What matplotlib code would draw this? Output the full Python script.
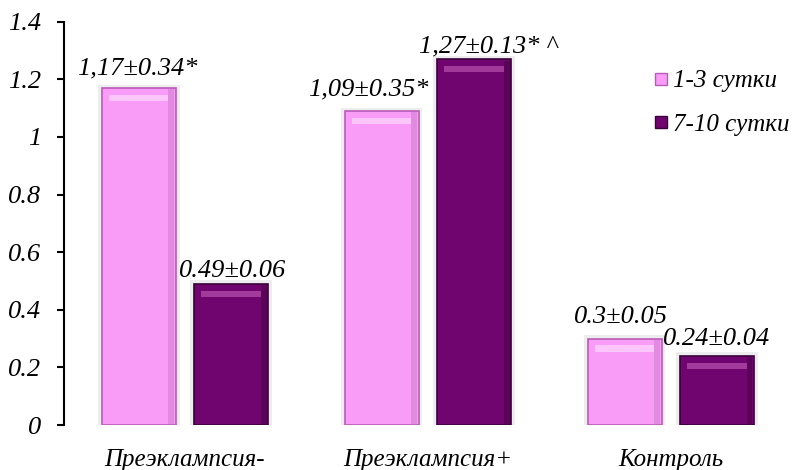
import matplotlib.pyplot as plt
import numpy as np
from matplotlib.lines import Line2D

plt.rcParams['font.family'] = ['Liberation Serif', 'DejaVu Serif']
plt.rcParams['font.style'] = 'italic'

groups = ['Преэклампсия-', 'Преэклампсия+', 'Контроль']
series_names = ['1-3 сутки', '7-10 сутки']
early = [1.17, 1.09, 0.30]
late = [0.49, 1.27, 0.24]
early_labels = ['1,17±0.34*', '1,09±0.35*', '0.3±0.05']
late_labels = ['0.49±0.06', '1,27±0.13* ^', '0.24±0.04']

# label nudges in pixels (dx, dy above bar top)
early_nudge = [(-2, 14), (-13, 16), (-4, 16)]
late_nudge = [(1, 7), (14, 7), (0, 11)]

pink = '#f99cf8'
pink_edge = '#b95cb8'
pink_light = '#fcc6fb'
pink_dark = '#e08ae0'
plum = '#71056f'
plum_edge = '#3a0039'
plum_light = '#a23a9c'
plum_dark = '#5a0358'

fig = plt.figure(figsize=(7.99, 4.70), dpi=100)
ax = fig.add_axes([0.0795, 0.0957, 0.912, 0.858])

x = np.arange(len(groups))
w = 0.305
off = 0.19


def bevel_bars(xs, vals, face, edge, light, dark):
    vals = np.array(vals)
    # soft grey halo behind each bar
    ax.bar(xs, vals + 0.012, width=w + 0.03, color='#ededed', edgecolor='none', zorder=1)
    ax.bar(xs, vals, width=w, color=face, edgecolor=edge, linewidth=1.2, zorder=2)
    # darker right side of the bevel
    ax.bar(xs + w * 0.44, vals - 0.01, bottom=0.005, width=w * 0.08,
           color=dark, edgecolor='none', zorder=3)
    # light strip along the top face
    ax.bar(xs, [0.022] * len(vals), bottom=vals - 0.045, width=w * 0.8,
           color=light, edgecolor='none', zorder=3)


bevel_bars(x - off, early, pink, pink_edge, pink_light, pink_dark)
bevel_bars(x + off, late, plum, plum_edge, plum_light, plum_dark)

for xi, v, t, (dx, dy) in zip(x - off, early, early_labels, early_nudge):
    ax.annotate(t, (xi, v), xytext=(dx, dy), textcoords='offset pixels',
                ha='center', va='baseline', fontsize=19)
for xi, v, t, (dx, dy) in zip(x + off, late, late_labels, late_nudge):
    ax.annotate(t, (xi, v), xytext=(dx, dy), textcoords='offset pixels',
                ha='center', va='baseline', fontsize=19)

ax.set_xlim(-0.5, 2.5)
ax.set_ylim(0, 1.4)
ax.set_yticks([0, 0.2, 0.4, 0.6, 0.8, 1.0, 1.2, 1.4])
ax.set_yticklabels(['0', '0.2', '0.4', '0.6', '0.8', '1', '1.2', '1.4'])
ax.set_xticks(x)
ax.set_xticklabels(groups)
ax.tick_params(axis='y', length=5, width=1.5, pad=11, labelsize=19)
ax.tick_params(axis='x', length=0, pad=17, labelsize=18)

for s in ['top', 'right', 'bottom']:
    ax.spines[s].set_visible(False)
ax.spines['left'].set_linewidth(1.5)

handles = [Line2D([], [], marker='s', linestyle='none', markersize=9,
                  markerfacecolor=pink, markeredgecolor=pink_edge),
           Line2D([], [], marker='s', linestyle='none', markersize=9,
                  markerfacecolor=plum, markeredgecolor=plum_edge)]
fig.legend(handles, series_names, loc='upper left',
           bbox_to_anchor=(648 / 799, 1 - 70 / 470), bbox_transform=fig.transFigure,
           frameon=False, fontsize=18, handletextpad=0.0, handlelength=1.0,
           labelspacing=0.84, borderaxespad=0, borderpad=0)

fig.savefig('out.png', dpi=100)
